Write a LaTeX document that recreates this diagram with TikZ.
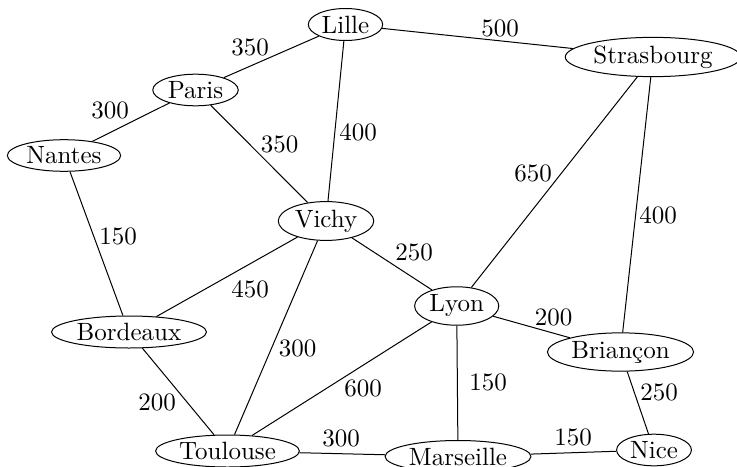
\documentclass[tikz,border=0pt]{standalone}
\usetikzlibrary{shapes.geometric}
\begin{document}
\begin{tikzpicture}[x=0.4pt,y=-0.4pt,
  city/.style={draw, ellipse, inner sep=1pt},
  lbl/.style={inner sep=0pt},
  road/.style={draw, line width=0.4pt}]
\useasboundingbox (0,0) rectangle (737,466);
\node[city] (lille) at (345.5,24.5) {Lille};
\node[city] (paris) at (195.5,90) {Paris};
\node[city] (nantes) at (64,155.5) {Nantes};
\node[city] (stras) at (653,57) {Strasbourg};
\node[city] (vichy) at (326,221) {Vichy};
\node[city] (lyon) at (456.7,306) {Lyon};
\node[city] (bord) at (129,332) {Bordeaux};
\node[city] (bria) at (620.5,352) {Briançon};
\node[city] (toul) at (227.5,451) {Toulouse};
\node[city] (mars) at (458,456.5) {Marseille};
\node[city] (nice) at (654,450) {Nice};

\path[road] (paris) -- (lille);
\path[road] (lille) -- (stras);
\path[road] (paris) -- (nantes);
\path[road] (lille) -- (vichy);
\path[road] (paris) -- (vichy);
\path[road] (nantes) -- (bord);
\path[road] (stras) -- (lyon);
\path[road] (stras) -- (bria);
\path[road] (vichy) -- (lyon);
\path[road] (vichy) -- (bord);
\path[road] (vichy) -- (toul);
\path[road] (lyon) -- (bria);
\path[road] (lyon) -- (toul);
\path[road] (lyon) -- (mars);
\path[road] (bord) -- (toul);
\path[road] (toul) -- (mars);
\path[road] (mars) -- (nice);
\path[road] (bria) -- (nice);

\node[lbl] (l1) at (250,47) {350};
\node[lbl] (l2) at (500,28) {500};
\node[lbl] (l3) at (110,110) {300};
\node[lbl] (l4) at (358,132) {400};
\node[lbl] (l5) at (279.5,144) {350};
\node[lbl] (l6) at (118,236) {150};
\node[lbl] (l7) at (533,173) {650};
\node[lbl] (l8) at (658,215) {400};
\node[lbl] (l9) at (414,252) {250};
\node[lbl] (l10) at (250,289) {450};
\node[lbl] (l11) at (297.5,348) {300};
\node[lbl] (l12) at (553.5,317) {200};
\node[lbl] (l13) at (363,388) {600};
\node[lbl] (l14) at (488,382) {150};
\node[lbl] (l15) at (157,402.5) {200};
\node[lbl] (l16) at (341,438) {300};
\node[lbl] (l17) at (573,437.5) {150};
\node[lbl] (l18) at (659,392) {250};
\end{tikzpicture}
\end{document}
